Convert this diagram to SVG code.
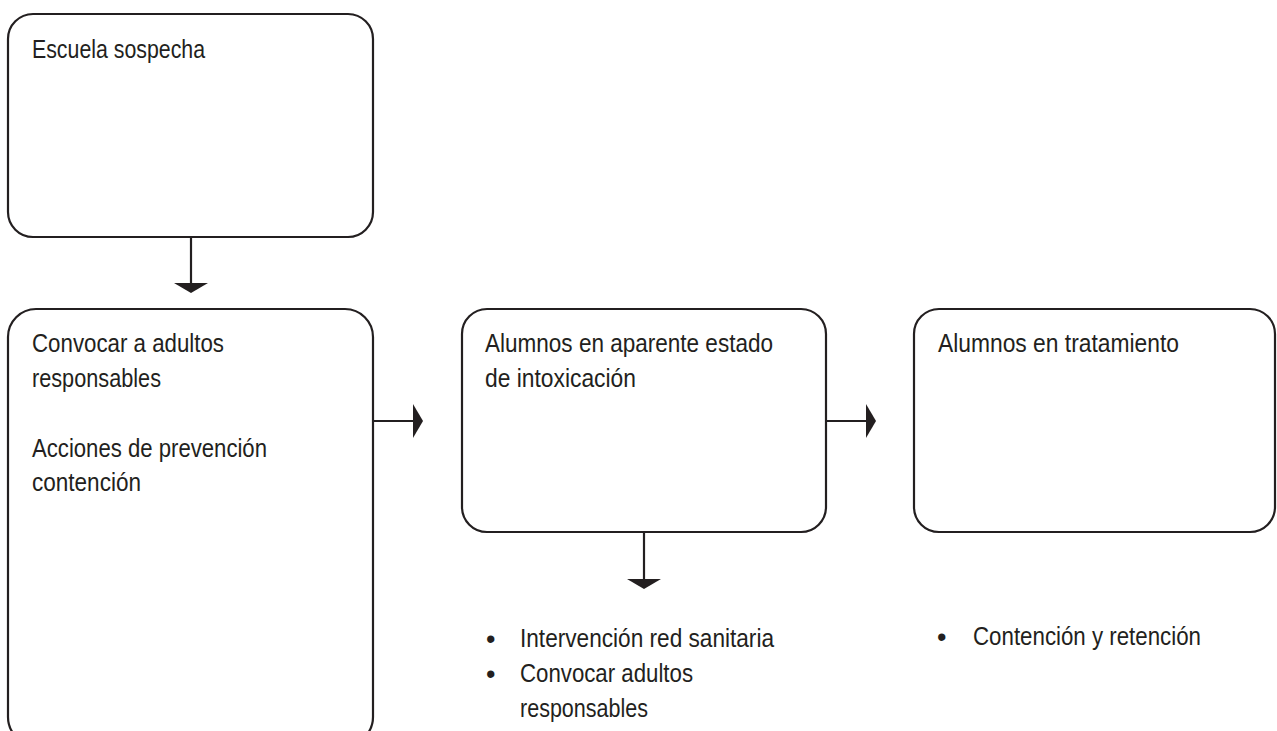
<svg xmlns="http://www.w3.org/2000/svg" width="1277" height="731" viewBox="0 0 1277 731">
<defs>
<style>
.box{fill:#ffffff;stroke:#231f20;stroke-width:2.2}
.t{font-family:"Liberation Sans",Arial,sans-serif;font-size:25px;fill:#231f20}
.b{font-family:"Liberation Sans",Arial,sans-serif;font-size:27px;fill:#231f20}
.c{fill:none;stroke:#231f20;stroke-width:2.2}
</style>
<marker id="ah" viewBox="0 0 10 34" refX="0" refY="17" markerWidth="10" markerHeight="34" markerUnits="userSpaceOnUse" orient="auto">
<path d="M0,0 L10,17 L0,34 Z" fill="#231f20"/>
</marker>
</defs>
<rect width="1277" height="731" fill="#ffffff"/>
<g id="n1">
<rect class="box" x="8" y="14" width="365" height="223" rx="25" ry="25"/>
<text class="t" x="32" y="58" textLength="173" lengthAdjust="spacingAndGlyphs">Escuela sospecha</text>
</g>
<g id="n2">
<rect class="box" x="8" y="309" width="365" height="436" rx="28" ry="28"/>
<text class="t" x="32" y="352" textLength="192" lengthAdjust="spacingAndGlyphs">Convocar a adultos</text>
<text class="t" x="32" y="387" textLength="129" lengthAdjust="spacingAndGlyphs">responsables</text>
<text class="t" x="32" y="457" textLength="235" lengthAdjust="spacingAndGlyphs">Acciones de prevención</text>
<text class="t" x="32" y="491" textLength="109" lengthAdjust="spacingAndGlyphs">contención</text>
</g>
<g id="n3">
<rect class="box" x="462" y="309" width="364" height="223" rx="25" ry="25"/>
<text class="t" x="485" y="352" textLength="288" lengthAdjust="spacingAndGlyphs">Alumnos en aparente estado</text>
<text class="t" x="485" y="387" textLength="151" lengthAdjust="spacingAndGlyphs">de intoxicación</text>
</g>
<g id="n4">
<rect class="box" x="914" y="309" width="361" height="223" rx="25" ry="25"/>
<text class="t" x="938" y="352" textLength="241" lengthAdjust="spacingAndGlyphs">Alumnos en tratamiento</text>
</g>
<g id="n5">
<text class="b" x="486" y="648">•</text>
<text class="t" x="520" y="647" textLength="254" lengthAdjust="spacingAndGlyphs">Intervención red sanitaria</text>
<text class="b" x="486" y="683">•</text>
<text class="t" x="520" y="682" textLength="173" lengthAdjust="spacingAndGlyphs">Convocar adultos</text>
<text class="t" x="520" y="717" textLength="128" lengthAdjust="spacingAndGlyphs">responsables</text>
</g>
<g id="n6">
<text class="b" x="937" y="646">•</text>
<text class="t" x="973" y="645" textLength="228" lengthAdjust="spacingAndGlyphs">Contención y retención</text>
</g>
<g id="connectors">
<path class="c" d="M191,237 V283" marker-end="url(#ah)"/>
<path class="c" d="M373,421 H413" marker-end="url(#ah)"/>
<path class="c" d="M826,421 H866" marker-end="url(#ah)"/>
<path class="c" d="M644,532 V579" marker-end="url(#ah)"/>
</g>
</svg>
